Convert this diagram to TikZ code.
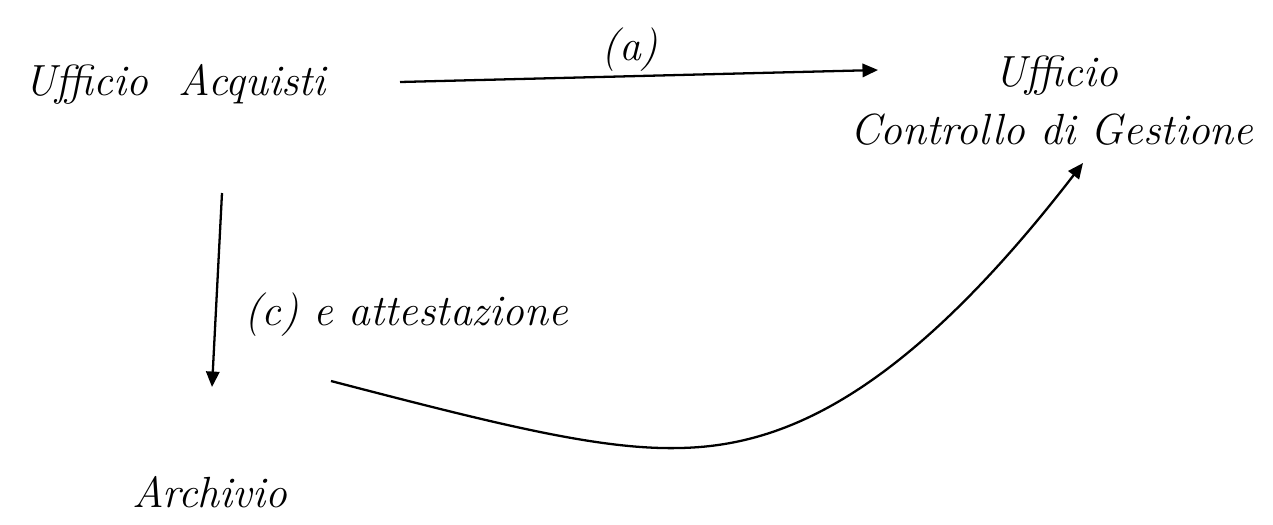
\documentclass[tikz,border=0pt]{standalone}
\usetikzlibrary{arrows.meta}
\begin{document}
\begin{tikzpicture}[x=0.01cm,y=-0.01cm,
  lbl/.style={inner sep=0pt,anchor=base,font=\fontsize{12.4}{15}\selectfont\itshape},
  conn/.style={line width=0.65pt,-{Triangle[length=4.4pt,width=3.8pt]}}]
\useasboundingbox (0,0) rectangle (1273,524);
\node[lbl] (acq) at (175,95) {Ufficio\ \ Acquisti};
\node[lbl] (a) at (630,60) {(a)};
\node[lbl] (uff) at (1056,86) {Ufficio};
\node[lbl] (cdg) at (1052,144) {Controllo di Gestione};
\node[lbl] (c) at (406,325) {(c) e attestazione};
\node[lbl] (arc) at (210,507) {Archivio};
\coordinate (s1) at (400,82);
\coordinate (e1) at (878,70);
\coordinate (s2) at (222,193);
\coordinate (e2) at (212,387);
\coordinate (s3) at (331,381);
\coordinate (m3) at (680,448);
\coordinate (e3) at (1083,163);
\draw[conn] (s1) -- (e1);
\draw[conn] (s2) -- (e2);
\draw[conn] (s3) .. controls (500,425) and (600,450) .. (m3)
  .. controls (780,446) and (900,400) .. (e3);
\end{tikzpicture}
\end{document}
